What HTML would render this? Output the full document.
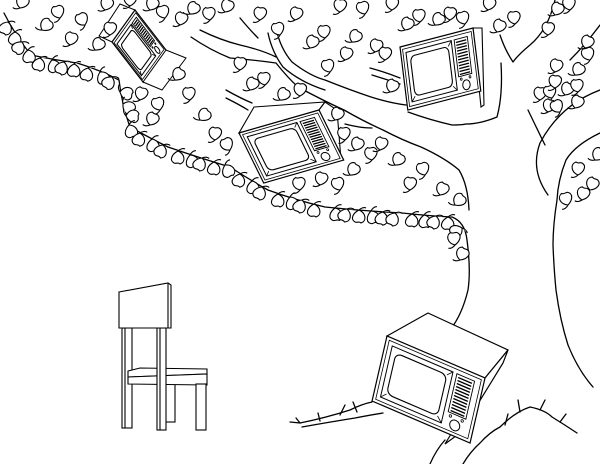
<!DOCTYPE html>
<html><head><meta charset="utf-8"><style>html,body{margin:0;padding:0;background:#fff}svg{display:block}</style></head>
<body>
<svg width="600" height="464" viewBox="0 0 600 464" xmlns="http://www.w3.org/2000/svg">
<defs>
<path id="lf" d="M0,0 C-7,-3 -8,-11 -2,-13 C0,-11 2,-13 4,-12 C9,-9 6,-3 0,0 M0,0 C-2,2 -5,3 -7,2" fill="#fff" stroke="#000" stroke-width="1.1"/>
<g id="tv" fill="none" stroke="#000">
<rect x="0" y="0" width="100" height="65" fill="#fff" stroke-width="1.2" vector-effect="non-scaling-stroke"/>
<rect x="3" y="3" width="94" height="59" stroke-width="0.8" vector-effect="non-scaling-stroke"/>
<rect x="7" y="7" width="62" height="51" stroke-width="1" vector-effect="non-scaling-stroke"/>
<rect x="12" y="12" width="52" height="41" rx="6" stroke-width="1.1" vector-effect="non-scaling-stroke"/>
<line x1="69" y1="7" x2="64" y2="12" stroke-width="0.8" vector-effect="non-scaling-stroke"/>
<line x1="69" y1="58" x2="64" y2="53" stroke-width="0.8" vector-effect="non-scaling-stroke"/>
<line x1="7" y1="58" x2="12" y2="53" stroke-width="0.8" vector-effect="non-scaling-stroke"/>
<rect x="73" y="7" width="18" height="38" stroke-width="0.9" vector-effect="non-scaling-stroke"/>
<path d="M75,10H89M75,13H89M75,16H89M75,19H89M75,22H89M75,25H89M75,28H89M75,31H89M75,34H89M75,37H89M75,40H89M75,43H89" stroke-width="1.3" vector-effect="non-scaling-stroke"/>
<circle cx="82" cy="55" r="5" stroke-width="1" vector-effect="non-scaling-stroke"/>
<circle cx="76" cy="48" r="1.2" stroke-width="0.8" vector-effect="non-scaling-stroke"/>
<circle cx="88" cy="48" r="1.2" stroke-width="0.8" vector-effect="non-scaling-stroke"/>
</g>
</defs>
<rect width="600" height="464" fill="#fff"/>
<g fill="none" stroke="#000" stroke-width="1.3" stroke-linecap="round" stroke-linejoin="round">
<path d="M4,13 Q15,35 31,55 Q55,60 77,63 Q100,70 119,80 Q122,105 130,127 Q150,138 168,147 Q200,158 230,167 Q250,180 268,190 Q295,200 325,207 Q365,211 402,213 Q430,216 452,217 Q465,222 467,240 Q471,270 468,290 Q462,315 450,330"/>
<path d="M600,133 Q575,145 566,160 Q558,180 557,200 Q553,225 553,245 Q554,270 556,290 Q560,320 568,345 Q578,370 593,387"/>
<path d="M600,90 Q560,105 540,143 Q530,170 548,195"/>
<path d="M528,110 Q540,135 545,145"/>
<path d="M555,0 Q548,30 530,45 Q518,55 513,62 Q505,50 500,35"/>
<path d="M600,25 Q585,45 570,60"/>
<path d="M191,37 Q210,50 230,58 Q255,60 276,63 Q288,78 298,87 Q322,100 344,110 Q365,122 383,130 Q402,140 421,147 Q445,158 459,170 Q468,185 469,210"/>
<path d="M200,30 Q220,40 240,45 Q262,50 276,57"/>
<path d="M268,33 Q272,52 283,67 Q300,82 325,90"/>
<path d="M276,28 Q280,48 292,62 Q310,76 325,80 Q350,90 371,97 Q390,103 406,105"/>
<path d="M226,90 Q240,98 252,103"/>
<path d="M226,98 Q240,105 248,110"/>
<path d="M345,124 Q360,128 372,128"/>
<path d="M466,124 Q480,124 497,117 Q503,95 501,63"/>
<path d="M408,112 Q430,120 452,125 Q462,125 466,124"/>
<path d="M370,68 Q385,72 400,78"/>
<path d="M372,75 Q388,80 400,84"/>
<path d="M240,18 Q250,30 258,38"/>
<!-- roots -->
<path d="M300,423 Q325,418 350,410 Q362,404 372,402"/>
<path d="M290,422 L300,423 L296,418"/>
<path d="M302,427 Q330,422 355,418 Q370,415 383,413"/>
<path d="M430,464 Q436,450 445,440"/>
<path d="M463,464 Q470,452 480,443 Q490,432 500,427 Q515,412 530,407 Q545,410 552,417 Q565,425 577,433"/>
<path d="M505,425 L508,414 M520,412 L518,400 M540,410 L545,400 M560,422 L566,414 M357,412 L353,402 M340,415 L345,405 M320,421 L318,413"/>
</g>

<polygon points="112,42 135,10 120,4 99,36" fill="#fff" stroke="#000" stroke-width="1"/>
<use href="#tv" transform="matrix(0.23,-0.32,0.48,0.62,112,42)"/>
<polygon points="143,82 166,50 186,58 162,90" fill="#fff" stroke="#000" stroke-width="1"/>
<polygon points="239,133 254,107 325,102 319,110" fill="#fff" stroke="#000" stroke-width="1.1"/>
<polygon points="319,110 325,102 337,110 341,160 344,160 327,163" fill="#fff" stroke="#000" stroke-width="1.1"/>
<use href="#tv" transform="matrix(0.80,-0.23,0.38,0.77,239,133)"/>
<polygon points="473,28 482,28 484,105 481,107" fill="#fff" stroke="#000" stroke-width="1.1"/>
<use href="#tv" transform="matrix(0.73,-0.19,0.12,0.97,400,47)"/>
<polygon points="387,336 428,313 508,350 485,378" fill="#fff" stroke="#000" stroke-width="1.2"/>
<polygon points="485,378 508,350 503,363 460,433 445,444" fill="#fff" stroke="#000" stroke-width="1.2"/>
<use href="#tv" transform="matrix(0.98,0.42,-0.23,1.0,387,336)"/>

<g fill="#fff" stroke="#000" stroke-width="1.1">
<rect x="122" y="328" width="10" height="100"/>
<line x1="125" y1="328" x2="125" y2="428"/>
<rect x="165" y="384" width="10" height="38"/>
<polygon points="128,371 140,368 207,369 207,374 128,377"/>
<polygon points="128,377 207,374 207,385 128,384"/>
<rect x="196" y="384" width="10" height="46"/>
<rect x="157" y="328" width="9" height="102"/>
<line x1="160" y1="328" x2="160" y2="430"/>
<polygon points="119,292 168,283 171,285 171,328 119,328"/>
<line x1="168" y1="283" x2="168" y2="328"/>
</g>

<g>
<use href="#lf" transform="translate(8,22) rotate(200)"/><use href="#lf" transform="translate(15,32) rotate(180)"/><use href="#lf" transform="translate(22,42) rotate(210)"/><use href="#lf" transform="translate(28,50) rotate(170)"/>
<use href="#lf" transform="translate(40,58) rotate(190)"/><use href="#lf" transform="translate(52,60) rotate(160)"/><use href="#lf" transform="translate(64,62) rotate(200)"/><use href="#lf" transform="translate(74,64) rotate(180)"/>
<use href="#lf" transform="translate(88,68) rotate(190)"/><use href="#lf" transform="translate(100,72) rotate(150)"/><use href="#lf" transform="translate(112,77) rotate(210)"/>
<use href="#lf" transform="translate(120,92) rotate(100)"/><use href="#lf" transform="translate(123,104) rotate(120)"/><use href="#lf" transform="translate(126,116) rotate(90)"/><use href="#lf" transform="translate(129,125) rotate(160)"/>
<use href="#lf" transform="translate(140,133) rotate(190)"/><use href="#lf" transform="translate(152,139) rotate(170)"/><use href="#lf" transform="translate(163,145) rotate(200)"/>
<use href="#lf" transform="translate(178,151) rotate(180)"/><use href="#lf" transform="translate(190,155) rotate(160)"/><use href="#lf" transform="translate(202,158) rotate(200)"/><use href="#lf" transform="translate(214,162) rotate(180)"/><use href="#lf" transform="translate(225,165) rotate(150)"/>
<use href="#lf" transform="translate(240,174) rotate(190)"/><use href="#lf" transform="translate(252,181) rotate(170)"/><use href="#lf" transform="translate(262,187) rotate(200)"/>
<use href="#lf" transform="translate(278,194) rotate(180)"/><use href="#lf" transform="translate(290,197) rotate(160)"/><use href="#lf" transform="translate(302,200) rotate(200)"/><use href="#lf" transform="translate(314,204) rotate(180)"/>
<use href="#lf" transform="translate(335,208) rotate(170)"/><use href="#lf" transform="translate(347,209) rotate(200)"/><use href="#lf" transform="translate(359,210) rotate(180)"/><use href="#lf" transform="translate(371,211) rotate(160)"/><use href="#lf" transform="translate(383,212) rotate(190)"/><use href="#lf" transform="translate(395,213) rotate(200)"/>
<use href="#lf" transform="translate(412,214) rotate(180)"/><use href="#lf" transform="translate(424,215) rotate(170)"/><use href="#lf" transform="translate(436,216) rotate(200)"/><use href="#lf" transform="translate(448,217) rotate(180)"/><use href="#lf" transform="translate(462,228) rotate(240)"/>
<use href="#lf" transform="translate(20,8) rotate(20)"/><use href="#lf" transform="translate(60,18) rotate(-20)"/><use href="#lf" transform="translate(42,30) rotate(40)"/><use href="#lf" transform="translate(70,45) rotate(10)"/>
<use href="#lf" transform="translate(85,25) rotate(-30)"/><use href="#lf" transform="translate(95,50) rotate(30)"/><use href="#lf" transform="translate(110,35) rotate(0)"/><use href="#lf" transform="translate(105,10) rotate(15)"/>
<use href="#lf" transform="translate(140,100) rotate(10)"/><use href="#lf" transform="translate(160,110) rotate(-20)"/><use href="#lf" transform="translate(175,80) rotate(30)"/><use href="#lf" transform="translate(190,100) rotate(-10)"/>
<use href="#lf" transform="translate(150,125) rotate(20)"/><use href="#lf" transform="translate(200,120) rotate(40)"/><use href="#lf" transform="translate(215,140) rotate(0)"/><use href="#lf" transform="translate(230,150) rotate(-30)"/>
<use href="#lf" transform="translate(250,90) rotate(20)"/><use href="#lf" transform="translate(265,85) rotate(-10)"/><use href="#lf" transform="translate(280,100) rotate(30)"/><use href="#lf" transform="translate(300,96) rotate(0)"/>
<use href="#lf" transform="translate(320,185) rotate(10)"/><use href="#lf" transform="translate(340,190) rotate(-20)"/><use href="#lf" transform="translate(355,150) rotate(20)"/><use href="#lf" transform="translate(372,160) rotate(-10)"/>
<use href="#lf" transform="translate(395,165) rotate(30)"/><use href="#lf" transform="translate(410,190) rotate(0)"/><use href="#lf" transform="translate(425,175) rotate(-20)"/><use href="#lf" transform="translate(440,195) rotate(20)"/><use href="#lf" transform="translate(455,205) rotate(40)"/>
<use href="#lf" transform="translate(380,150) rotate(10)"/><use href="#lf" transform="translate(350,175) rotate(30)"/><use href="#lf" transform="translate(300,190) rotate(-10)"/>
<use href="#lf" transform="translate(130,6) rotate(0)"/><use href="#lf" transform="translate(150,10) rotate(20)"/><use href="#lf" transform="translate(165,18) rotate(-20)"/><use href="#lf" transform="translate(180,25) rotate(10)"/><use href="#lf" transform="translate(190,14) rotate(30)"/>
<use href="#lf" transform="translate(210,20) rotate(-10)"/><use href="#lf" transform="translate(225,12) rotate(20)"/><use href="#lf" transform="translate(260,20) rotate(0)"/><use href="#lf" transform="translate(280,35) rotate(-20)"/><use href="#lf" transform="translate(295,20) rotate(10)"/>
<use href="#lf" transform="translate(310,48) rotate(20)"/><use href="#lf" transform="translate(325,38) rotate(-10)"/><use href="#lf" transform="translate(340,12) rotate(0)"/><use href="#lf" transform="translate(352,42) rotate(30)"/><use href="#lf" transform="translate(365,14) rotate(-20)"/>
<use href="#lf" transform="translate(375,52) rotate(10)"/><use href="#lf" transform="translate(392,10) rotate(0)"/><use href="#lf" transform="translate(405,30) rotate(20)"/><use href="#lf" transform="translate(420,22) rotate(-10)"/><use href="#lf" transform="translate(435,25) rotate(30)"/>
<use href="#lf" transform="translate(450,20) rotate(0)"/><use href="#lf" transform="translate(465,24) rotate(-20)"/><use href="#lf" transform="translate(488,10) rotate(10)"/><use href="#lf" transform="translate(497,32) rotate(20)"/><use href="#lf" transform="translate(515,24) rotate(-10)"/>
<use href="#lf" transform="translate(385,60) rotate(0)"/><use href="#lf" transform="translate(390,92) rotate(20)"/><use href="#lf" transform="translate(330,72) rotate(-20)"/><use href="#lf" transform="translate(345,60) rotate(10)"/>
<use href="#lf" transform="translate(240,70) rotate(0)"/><use href="#lf" transform="translate(335,120) rotate(20)"/><use href="#lf" transform="translate(345,140) rotate(-10)"/>
<use href="#lf" transform="translate(555,15) rotate(20)"/><use href="#lf" transform="translate(570,10) rotate(-10)"/><use href="#lf" transform="translate(548,35) rotate(0)"/>
<use href="#lf" transform="translate(585,48) rotate(20)"/><use href="#lf" transform="translate(590,60) rotate(-20)"/><use href="#lf" transform="translate(555,72) rotate(10)"/><use href="#lf" transform="translate(575,75) rotate(30)"/>
<use href="#lf" transform="translate(540,100) rotate(0)"/><use href="#lf" transform="translate(552,98) rotate(-20)"/><use href="#lf" transform="translate(565,95) rotate(20)"/><use href="#lf" transform="translate(578,92) rotate(-10)"/>
<use href="#lf" transform="translate(548,112) rotate(10)"/><use href="#lf" transform="translate(560,112) rotate(-30)"/><use href="#lf" transform="translate(575,108) rotate(20)"/><use href="#lf" transform="translate(555,88) rotate(0)"/>
<use href="#lf" transform="translate(578,175) rotate(0)"/><use href="#lf" transform="translate(590,190) rotate(20)"/><use href="#lf" transform="translate(568,205) rotate(-20)"/><use href="#lf" transform="translate(582,200) rotate(10)"/><use href="#lf" transform="translate(595,160) rotate(30)"/>
<use href="#lf" transform="translate(460,260) rotate(20)"/><use href="#lf" transform="translate(455,245) rotate(-10)"/>
</g>
</svg>
</body></html>
